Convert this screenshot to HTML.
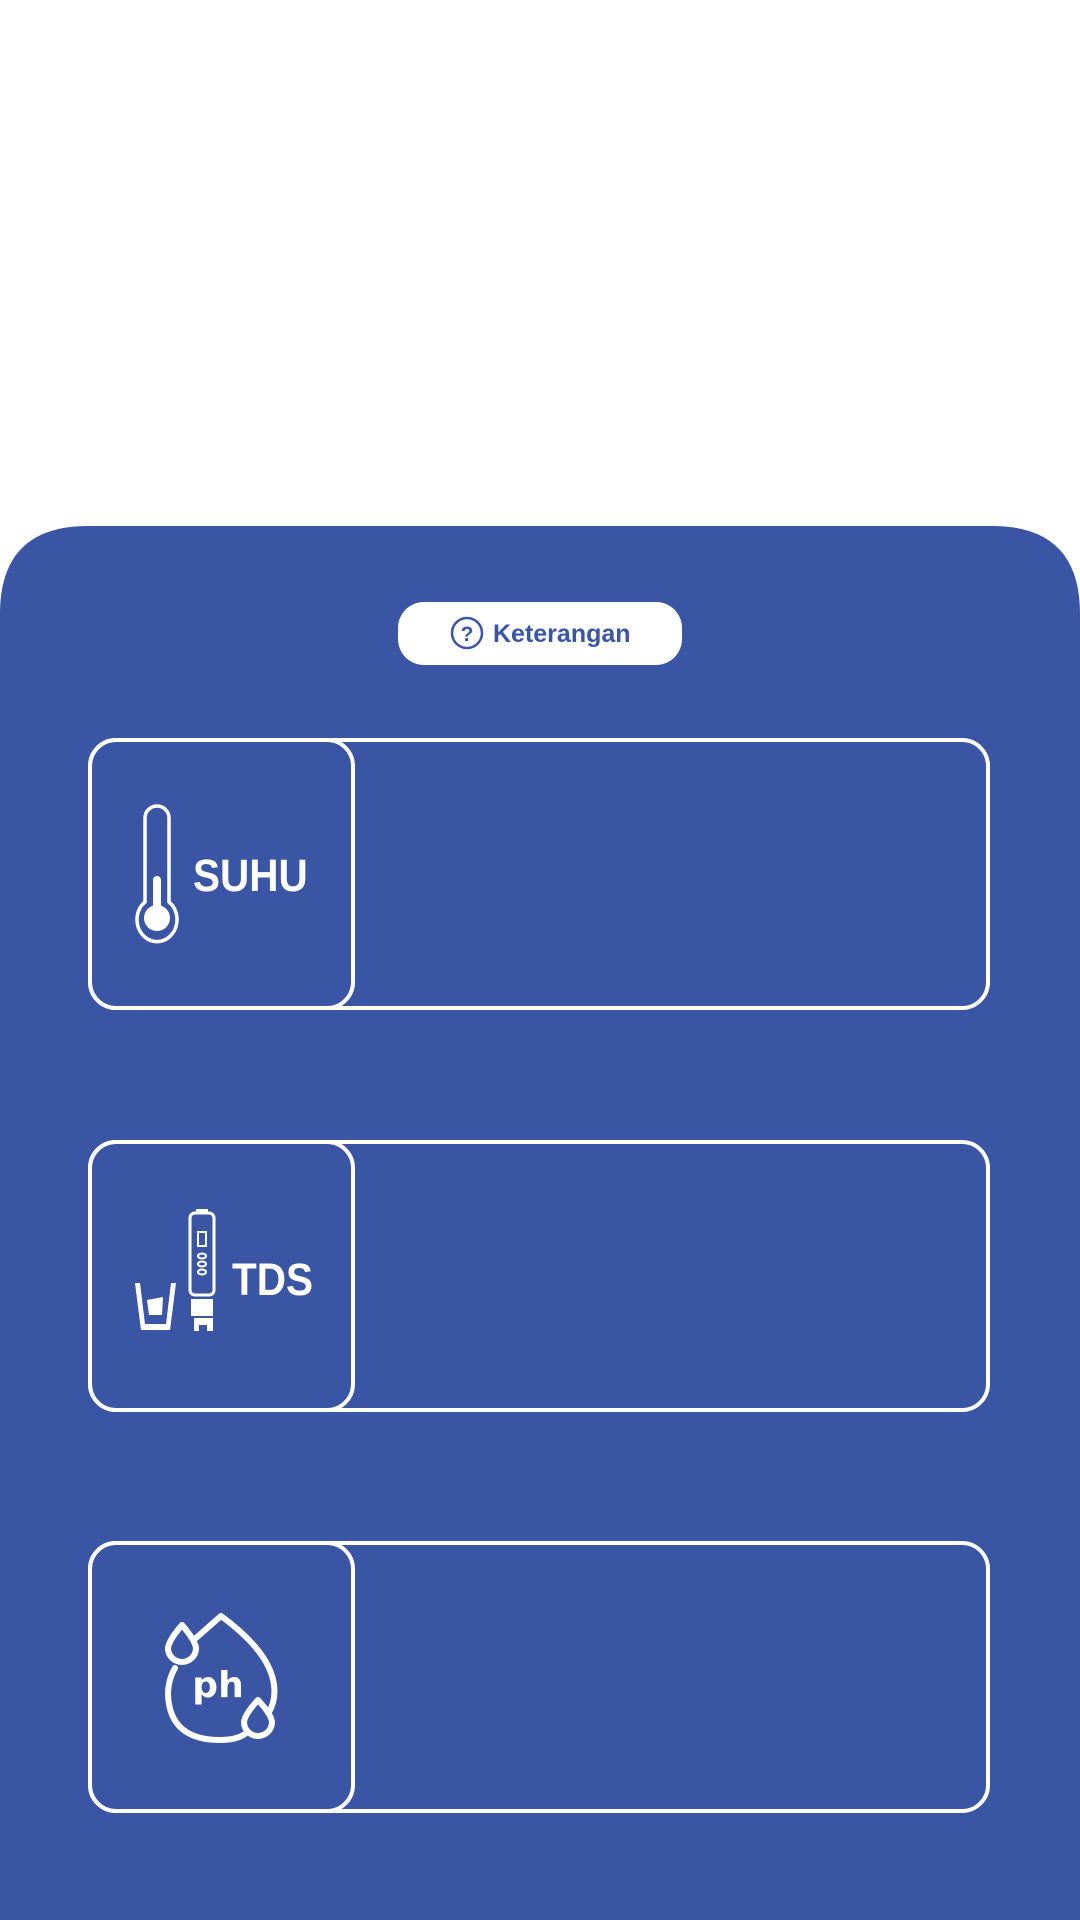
<!DOCTYPE html>
<html><head><meta charset="utf-8"><style>
html,body{margin:0;padding:0;background:#fff;}
body{width:1080px;height:1920px;position:relative;overflow:hidden;font-family:"Liberation Sans",sans-serif;}
svg{position:absolute;left:0;top:0;}
</style></head><body>
<svg width="1080" height="1920" viewBox="0 0 1080 1920">
  <path d="M0 614 Q0 526 88 526 L992 526 Q1080 526 1080 614 L1080 1920 L0 1920 Z" fill="#3b55a5"/>
  <g>
    <rect x="398" y="602" width="284" height="63" rx="26" fill="#fff"/>
    <circle cx="467" cy="633" r="15" fill="none" stroke="#3b55a5" stroke-width="2.5"/>
    <text x="467" y="641" text-anchor="middle" font-size="21" font-weight="bold" fill="#3b55a5" font-family="Liberation Sans, sans-serif">?</text>
    <text x="493" y="642" font-size="25" font-weight="bold" fill="#3b55a5" font-family="Liberation Sans, sans-serif">Keterangan</text>
  </g>

  <g fill="none" stroke="#fff" stroke-width="4">
    <rect x="90" y="740" width="898" height="268" rx="26"/>
    <rect x="90" y="740" width="263" height="268" rx="26"/>
  </g>
  <g fill="none" stroke="#fff" stroke-width="3.5">
    <path d="M145 902 L145 818 A12 12 0 0 1 169 818 L169 902 A20 22 0 1 1 145 902 Z"/>
    <line x1="157" y1="880" x2="157" y2="910" stroke-width="8" stroke-linecap="round"/>
    <circle cx="157" cy="918" r="13" fill="#fff" stroke="none"/>
  </g>
  <text x="193" y="891" font-size="45" font-weight="bold" fill="#fff" transform="translate(193 0) scale(0.9 1) translate(-193 0)">SUHU</text>

  <g fill="none" stroke="#fff" stroke-width="4">
    <rect x="90" y="1142" width="898" height="268" rx="26"/>
    <rect x="90" y="1142" width="263" height="268" rx="26"/>
  </g>
  <g fill="#fff">
    <path d="M135 1283 L140 1283 L145 1324 L166 1324 L171 1283 L176 1283 L170 1330 L141 1330 Z"/>
    <path d="M147 1300 L163 1297 L162 1315 L149 1315 Z"/>
    <rect x="190" y="1213" width="24" height="82" rx="5" fill="none" stroke="#fff" stroke-width="3"/>
    <rect x="196" y="1209" width="12" height="3"/>
    <rect x="198" y="1232" width="8" height="14" fill="none" stroke="#fff" stroke-width="2"/>
    <ellipse cx="202" cy="1256" rx="4" ry="2.5" fill="none" stroke="#fff" stroke-width="2"/>
    <ellipse cx="202" cy="1264" rx="4" ry="2.5" fill="none" stroke="#fff" stroke-width="2"/>
    <ellipse cx="202" cy="1272" rx="4" ry="2.5" fill="none" stroke="#fff" stroke-width="2"/>
    <rect x="191" y="1299" width="22" height="17"/>
    <path d="M194 1318 L213 1318 L213 1331 L207 1331 L207 1325 L199 1325 L199 1331 L194 1331 Z"/>
  </g>
  <text x="232" y="1295" font-size="45" font-weight="bold" fill="#fff" transform="translate(232 0) scale(0.9 1) translate(-232 0)">TDS</text>

  <g fill="none" stroke="#fff" stroke-width="4">
    <rect x="90" y="1543" width="898" height="268" rx="26"/>
    <rect x="90" y="1543" width="263" height="268" rx="26"/>
  </g>
  <g fill="none" stroke="#fff" stroke-width="6" stroke-linecap="round" stroke-linejoin="round">
    <path d="M196 1638 L221 1616 Q270 1652 274 1685 Q276 1700 269 1712"/>
    <path d="M245 1734 Q236 1740 220 1740 Q170 1740 168 1695 Q168 1680 175 1668"/>
    <path d="M182 1625 Q195 1640 196 1648 A14 14 0 1 1 168 1648 Q169 1640 182 1625 Z"/>
    <path d="M258 1700 Q271 1714 272 1722 A14 14 0 1 1 244 1722 Q245 1714 258 1700 Z"/>
    <text x="218" y="1697" text-anchor="middle" font-size="36" font-weight="bold" fill="#fff" stroke="none" font-family="DejaVu Sans, sans-serif">ph</text>
  </g>
</svg>
</body></html>
